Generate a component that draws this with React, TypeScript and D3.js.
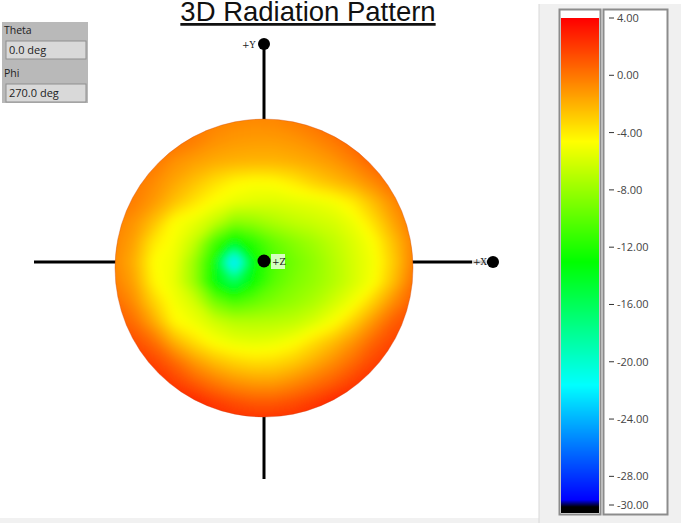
import React, { useMemo } from "react";
import * as d3 from "d3";

const width = 681;
const height = 523;

// colour bar
const tickValues = [4, 0, -4, -8, -12, -16, -20, -24, -28, -30];
const colorStops = [4, -4.6, -13, -21.6, -29.6, -30.1, -30.6];
const colorNames = ["#ff0000", "#ffff00", "#00ff00", "#00ffff", "#0000ff", "#000000", "#000000"];

const gridColumns = 18;
const gridRows = 18;
const row00 = [1, 1, 1, 0.5, 0.5, 0, 0, -0.5, -0.5, -0.5, 0, 0.5, 1, 1, 1, 1, 1, 1];
const row01 = [0.5, 0.5, 0.5, 0.5, 0.5, 0, -0.3, -0.5, -0.6, -0.5, -0.2, 0.3, 0.8, 1, 1, 1, 1, 1];
const row02 = [0.5, 0.5, 0.5, 0.5, 0.3, -0.2, -0.8, -1.1, -1.2, -1.2, -1, -0.6, 0, 0.8, 1, 1, 1, 1];
const row03 = [0.5, 0.5, 0.5, 0.1, -0.8, -1.3, -1.7, -1.9, -2, -2, -1.8, -1.5, -1, -0.2, 0.8, 1, 1, 1];
const row04 = [0.5, 0.5, 0, -0.6, -1.5, -2.4, -3.4, -4.2, -4.5, -4.4, -3.8, -2.9, -2.2, -1.5, -0.5, 0.5, 1, 1];
const row05 = [0.5, 0.3, -0.2, -1.1, -2.4, -3.6, -4.6, -5.2, -5.5, -5.6, -5.4, -5.2, -4.8, -3.8, -2.2, -0.6, 0.5, 1];
const row06 = [0.5, -0.3, -0.9, -2.4, -4.5, -5.2, -6.4, -8.4, -8, -7.2, -6.6, -6.2, -5.8, -5, -3.4, -1.4, 0.2, 1];
const row07 = [0.3, -0.4, -1.4, -3.8, -4.8, -6.4, -10.5, -13.5, -11.5, -9.6, -8.5, -7.6, -6.6, -5.6, -4.5, -2.3, -0.2, 0.5];
const row08 = [0.3, -0.5, -1.8, -4.5, -5, -7.8, -12.5, -24, -13, -10.4, -9.2, -8.2, -7, -5.8, -4.8, -2.7, -0.1, 0.5];
const row09 = [0.6, -0.2, -1.4, -4.2, -5.2, -7.8, -13, -16, -12.5, -10, -8.8, -8, -7, -5.8, -4.6, -2.2, 0.4, 1];
const row10 = [1, 0.6, -0.7, -3, -4.8, -5.9, -9, -10.5, -9.6, -8.7, -8, -7.2, -6, -4.8, -2.8, -0.6, 1, 1.5];
const row11 = [1.5, 1, 0.4, -1.6, -4.2, -5, -6, -6.8, -6.9, -6.8, -6.5, -5.7, -4.6, -2.8, -0.8, 1, 1.5, 2];
const row12 = [2, 2, 1.5, 0.4, -1.8, -3.4, -4.6, -5.2, -5.4, -5.2, -4.6, -3.4, -2.2, -0.8, 0.8, 1.8, 2, 2];
const row13 = [2.5, 2.5, 2.2, 1.8, 0.6, -1, -2.2, -3, -3.4, -3.3, -2.7, -1.7, -0.6, 0.6, 1.8, 2.2, 2.5, 2.5];
const row14 = [3, 3, 3, 2.6, 2, 1, 0, -0.8, -1.2, -1.2, -0.6, 0.2, 1, 2, 2.6, 3, 3, 3];
const row15 = [3, 3, 3, 3, 3, 2.9, 2.1, 1.5, 1.1, 1.1, 1.5, 2.1, 2.9, 3, 3, 3, 3, 3];
const row16 = [3, 3, 3, 3, 3, 3, 2.9, 2.7, 2.6, 2.6, 2.7, 2.9, 3, 3, 3, 3, 3, 3];
const row17 = [3, 3, 3, 3, 3, 3, 3, 3, 3, 3, 3, 3, 3, 3, 3, 3, 3, 3];
const dbRows = [row00, row01, row02, row03, row04, row05, row06, row07, row08, row09, row10, row11, row12, row13, row14, row15, row16, row17];

// readouts in the top left
const angleLabels = ["Theta", "Phi"];
const angleValues = ["0.0 deg", "270.0 deg"];

const color = d3
  .scaleLinear<string>()
  .domain(colorStops)
  .range(colorNames)
  .interpolate(d3.interpolateRgb)
  .clamp(true);

const barScale = d3.scaleLinear().domain([4, -30]).range([18, 505]);

// the sphere is centred a bit under the axes crossing
const cx = 264;
const cy = 268;
const radius = 149;

export default function App() {
  const bands = useMemo(() => {
    const thresholds = d3.range(-24, 4.01, 0.2);
    return d3.contours().size([gridColumns, gridRows]).thresholds(thresholds)(dbRows.flat());
  }, []);

  // contour coordinates are cell based, the sample sits in the middle of a cell
  const gridX = d3.scaleLinear().domain([0.5, gridColumns - 0.5]).range([94, 94 + 20 * (gridColumns - 1)]);
  const gridY = d3.scaleLinear().domain([0.5, gridRows - 0.5]).range([102, 102 + 20 * (gridRows - 1)]);
  const path = d3.geoPath(
    d3.geoTransform({
      point(x, y) {
        this.stream.point(gridX(x), gridY(y));
      },
    })
  );

  const barPixels = d3.range(18, 513);

  return (
    <svg width={width} height={height} style={{ position: "absolute", left: 0, top: 0, background: "white" }}>
      <defs>
        <clipPath id="sphere">
          <circle cx={cx} cy={cy} r={radius} />
        </clipPath>
        <filter id="soft" x="-10%" y="-10%" width="120%" height="120%">
          <feGaussianBlur stdDeviation="4.5" />
        </filter>
      </defs>

      {/* bottom strip and right panel */}
      <rect x={0} y={518} width={width} height={5} fill="#f1f1f1" />
      <rect x={539} y={4} width={142} height={519} fill="#f0f0f0" />
      <line x1={539} x2={539} y1={4} y2={523} stroke="#d8d8d8" />

      <text
        x={308}
        y={21}
        textAnchor="middle"
        fontFamily="Liberation Sans"
        fontSize={27.5}
        textDecoration="underline"
        fill="#111"
      >
        3D Radiation Pattern
      </text>

      {/* theta / phi readout */}
      <rect x={2} y={22} width={86} height={81} fill="#b9b9b9" />
      {angleLabels.map((d, i) => (
        <g key={d} transform={`translate(0,${22 + i * 43})`}>
          <text x={4} y={12} fontFamily="Open Sans" fontSize={10.5} fill="#222">
            {d}
          </text>
          <rect x={6} y={19} width={80} height={18} fill="#d9d9d9" stroke="#8f8f8f" />
          <text x={9} y={32} fontFamily="Open Sans" fontSize={11} fill="#222">
            {angleValues[i]}
          </text>
        </g>
      ))}

      {/* axes */}
      <g stroke="black" strokeWidth={3}>
        <line x1={34} x2={116} y1={262} y2={262} />
        <line x1={412} x2={493} y1={262} y2={262} />
        <line x1={264} x2={264} y1={44} y2={122} />
        <line x1={264} x2={264} y1={414} y2={479} />
      </g>

      <g clipPath="url(#sphere)">
        <g filter="url(#soft)">
          {bands.map((b) => (
            <path key={b.value} d={path(b) || ""} fill={color(b.value)} />
          ))}
        </g>
      </g>
      <circle cx={cx} cy={cy} r={radius} fill="none" stroke="#c8481a" strokeOpacity={0.35} />

      {/* axis ends */}
      <circle cx={264} cy={44} r={6} fill="black" />
      <circle cx={493} cy={262} r={6} fill="black" />
      <circle cx={264} cy={261} r={6.5} fill="black" />
      <text x={242} y={48} fontFamily="DejaVu Serif" fontSize={9} fill="#222">
        +Y
      </text>
      <rect x={271} y={254} width={14} height={15} fill="white" fillOpacity={0.75} />
      <text x={272} y={265} fontFamily="DejaVu Serif" fontSize={9} fill="#222">
        +Z
      </text>
      <rect x={472} y={255} width={15} height={13} fill="white" fillOpacity={0.8} />
      <text x={473} y={265} fontFamily="DejaVu Serif" fontSize={9} fill="#222">
        +X
      </text>

      {/* colour bar */}
      <rect x={559.5} y={9.5} width={41} height={505} fill="white" stroke="#8c8c8c" strokeWidth={2} />
      {barPixels.map((y) => (
        <rect key={y} x={561} y={y} width={38} height={1} fill={color(barScale.invert(y))} />
      ))}
      <rect x={603.5} y={9.5} width={64} height={505} fill="white" stroke="#8c8c8c" strokeWidth={2} />
      {tickValues.map((v) => (
        <g key={v} transform={`translate(0,${barScale(v)})`}>
          <line x1={609} x2={614} stroke="#333" />
          <text x={617} y={4} fontFamily="Open Sans" fontSize={11} fill="#444">
            {v.toFixed(2)}
          </text>
        </g>
      ))}
    </svg>
  );
}
